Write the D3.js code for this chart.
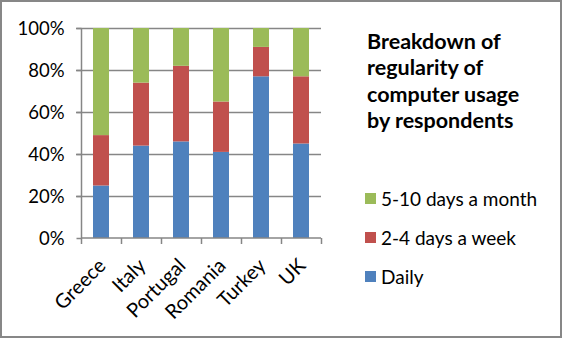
<!DOCTYPE html>
<html>
<head>
<meta charset="utf-8">
<script src="https://cdn.jsdelivr.net/npm/d3@7"></script>
<style>
  html, body { margin: 0; padding: 0; background: #fff; }
  svg { display: block; }
  text { font-family: Lato, "Liberation Sans", sans-serif; fill: #000; }
</style>
</head>
<body>
<svg id="chart" width="562" height="338"></svg>
<script>
// Survey: how often respondents use a computer, by country (shares in %)
const countries = ["Greece", "Italy", "Portugal", "Romania", "Turkey", "UK"];
const daily      = [25, 44, 46, 41, 77, 45];
const daysAWeek  = [24, 30, 36, 24, 14, 32];
const daysAMonth = [51, 26, 18, 35,  9, 23];
const seriesNames = ["Daily", "2-4 days a week", "5-10 days a month"];
const seriesColors = ["#4f81bd", "#c0504d", "#9bbb59"];
const yTicks = [0, 20, 40, 60, 80, 100];
const titleLines = ["Breakdown of", "regularity of", "computer usage", "by respondents"];

const svg = d3.select("#chart");
const W = 562, H = 338;

// outer frame
svg.append("rect")
  .attr("x", 1).attr("y", 1).attr("width", W - 2).attr("height", H - 2)
  .attr("fill", "#fff").attr("stroke", "#878787").attr("stroke-width", 2);

const plot = { left: 81, right: 321, top: 28, bottom: 238 };

const x = d3.scaleBand().domain(countries).range([plot.left, plot.right]).paddingInner(0.6).paddingOuter(0.3);
const y = d3.scaleLinear().domain([0, 100]).range([plot.bottom, plot.top]);

const rows = countries.map((c, i) => ({ country: c, daily: daily[i], week: daysAWeek[i], month: daysAMonth[i] }));
const stack = d3.stack().keys(["daily", "week", "month"]);
const layers = stack(rows);

const gridColor = "#868686";

// horizontal gridlines
svg.append("g").selectAll("line").data(yTicks.filter(t => t > 0)).join("line")
  .attr("x1", plot.left - 5).attr("x2", plot.right)
  .attr("y1", d => Math.round(y(d)) + 0.5).attr("y2", d => Math.round(y(d)) + 0.5)
  .attr("stroke", gridColor).attr("stroke-width", 1.5);

// stacked bars
svg.append("g").selectAll("g").data(layers).join("g")
  .attr("fill", (d, i) => seriesColors[i])
  .selectAll("rect").data(d => d).join("rect")
  .attr("x", d => x(d.data.country))
  .attr("width", x.bandwidth())
  .attr("y", d => y(d[1]))
  .attr("height", d => y(d[0]) - y(d[1]));

// y axis
const yAxis = d3.axisLeft(y).tickValues(yTicks).tickFormat(d => d + "%").tickSize(5).tickPadding(12);
const gy = svg.append("g").attr("transform", `translate(${plot.left + 0.5},0)`).call(yAxis);
gy.select(".domain").attr("stroke", gridColor).attr("stroke-width", 1.5).attr("d", `M0,${plot.top}V${plot.bottom}`);
gy.selectAll(".tick line").attr("stroke", gridColor).attr("stroke-width", 1.5);
gy.selectAll(".tick text").attr("font-size", 18.5).attr("font-family", "Lato, sans-serif").attr("fill", "#000").attr("dy", "0.36em");

// x axis with ticks on category boundaries
const gx = svg.append("g").attr("transform", `translate(0,${plot.bottom})`);
gx.append("line").attr("x1", plot.left).attr("x2", plot.right).attr("y1", 0).attr("y2", 0)
  .attr("stroke", gridColor).attr("stroke-width", 1.5);
const step = x.step();
const bounds = d3.range(countries.length + 1).map(i => plot.left + i * step);
gx.selectAll("line.tk").data(bounds).join("line").attr("class", "tk")
  .attr("x1", d => d + 0.5).attr("x2", d => d + 0.5).attr("y1", 0).attr("y2", 6)
  .attr("stroke", gridColor).attr("stroke-width", 1.5);
gx.selectAll("text").data(countries).join("text")
  .attr("transform", d => `translate(${x(d) + x.bandwidth() / 2 + 1},${24}) rotate(-45)`)
  .attr("text-anchor", "end")
  .attr("dy", "0.35em")
  .attr("font-size", 20)
  .text(d => d);

// title
svg.append("text")
  .attr("x", 367).attr("y", 49)
  .attr("font-size", 21.5).attr("font-weight", "bold")
  .selectAll("tspan").data(titleLines).join("tspan")
  .attr("x", 367).attr("dy", (d, i) => i === 0 ? 0 : 26.3)
  .text(d => d);

// legend (top to bottom: reverse stack order)
const legendOrder = [2, 1, 0];
const lg = svg.append("g");
legendOrder.forEach((si, k) => {
  const cy = 199 + k * 39;
  lg.append("rect").attr("x", 365).attr("y", cy - 6).attr("width", 11).attr("height", 11).attr("fill", seriesColors[si]);
  lg.append("text").attr("x", 381).attr("y", cy).attr("dy", "0.35em").attr("font-size", 19).text(seriesNames[si]);
});
</script>
</body>
</html>
